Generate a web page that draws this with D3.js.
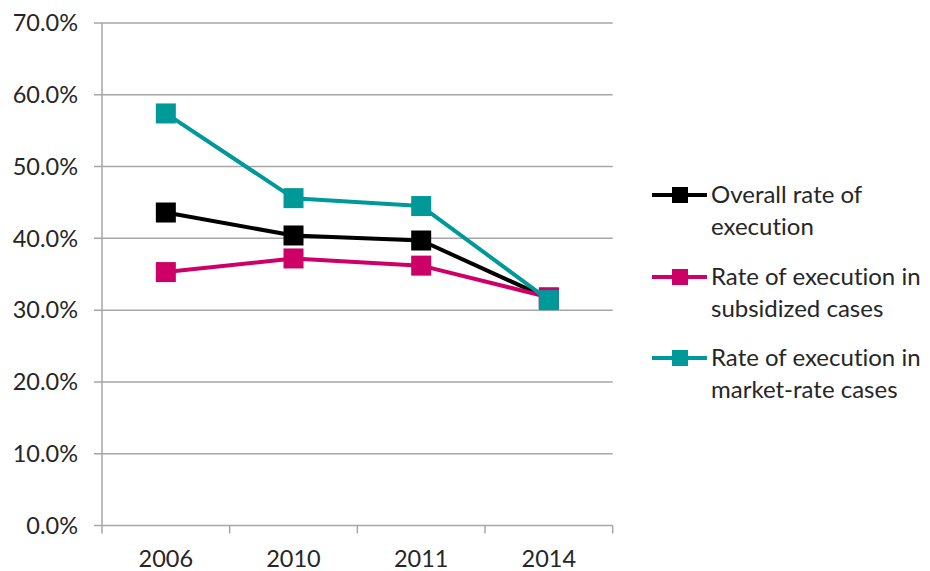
<!DOCTYPE html>
<html><head><meta charset="utf-8">
<script src="https://cdn.jsdelivr.net/npm/d3@7"></script>
<style>body{margin:0;background:#fff}svg{display:block}text{font-family:Lato,"Open Sans",sans-serif;fill:#262626;font-variant-ligatures:none;font-feature-settings:"liga" 0}</style>
</head><body><svg id="c" width="930" height="571"></svg>
<script>
const categories = ["2006","2010","2011","2014"];
const overall = [0.436, 0.404, 0.397, 0.316];
const subsidized = [0.353, 0.372, 0.362, 0.318];
const marketRate = [0.574, 0.456, 0.445, 0.314];
const seriesNames = [["Overall rate of","execution"],["Rate of execution in","subsidized cases"],["Rate of execution in","market-rate cases"]];
const seriesColors = ["#000000","#cc0066","#009999"];
const yTicks = [0,0.1,0.2,0.3,0.4,0.5,0.6,0.7];

(function(){
const svg = d3.select("#c");
const pL=102, pR=612.7, pT=23, pB=525.5;
const x = d3.scaleBand().domain(categories).range([pL,pR]);
const y = d3.scaleLinear().domain([0,0.7]).range([pB,pT]);
const series = [overall, subsidized, marketRate];

svg.append("g").selectAll("line").data(yTicks).join("line")
  .attr("x1",94).attr("x2",pR).attr("y1",d=>y(d)).attr("y2",d=>y(d))
  .attr("stroke","#a6a6a6").attr("stroke-width",1.5);
svg.append("line").attr("x1",pL).attr("x2",pL).attr("y1",pT).attr("y2",pB)
  .attr("stroke","#a6a6a6").attr("stroke-width",1.5);
svg.append("g").selectAll("text").data(yTicks).join("text")
  .attr("x",78).attr("y",d=>y(d)).attr("dy","0.35em").attr("text-anchor","end")
  .attr("font-size",23.5).text(d=>d3.format(".1%")(d));
const xt = categories.map(c=>x(c)).concat([pR]);
svg.append("g").selectAll("line").data(xt).join("line")
  .attr("x1",d=>d).attr("x2",d=>d).attr("y1",pB).attr("y2",pB+8)
  .attr("stroke","#a6a6a6").attr("stroke-width",1.5);
svg.append("g").selectAll("text").data(categories).join("text")
  .attr("x",d=>x(d)+x.bandwidth()/2).attr("y",567).attr("text-anchor","middle")
  .attr("font-size",23.5).text(d=>d);

const line = d3.line().x((d,i)=>x(categories[i])+x.bandwidth()/2).y(d=>y(d));
const ms = 20;
series.forEach((s,k)=>{
  const g = svg.append("g");
  g.append("path").attr("d",line(s)).attr("fill","none").attr("stroke",seriesColors[k])
    .attr("stroke-width",4).attr("stroke-linejoin","round");
  g.selectAll("rect").data(s).join("rect")
    .attr("x",(d,i)=>x(categories[i])+x.bandwidth()/2-ms/2).attr("y",d=>y(d)-ms/2)
    .attr("width",ms).attr("height",ms).attr("fill",seriesColors[k]);
});

const legY = [195, 277, 358];
seriesNames.forEach((n,k)=>{
  const g = svg.append("g");
  g.append("line").attr("x1",652).attr("x2",707).attr("y1",legY[k]).attr("y2",legY[k])
    .attr("stroke",seriesColors[k]).attr("stroke-width",4);
  g.append("rect").attr("x",672).attr("y",legY[k]-8).attr("width",16).attr("height",16).attr("fill",seriesColors[k]);
  n.forEach((t,j)=>{
    g.append("text").attr("x",711).attr("y",legY[k]+j*32).attr("dy","0.35em")
      .attr("font-size",24).text(t);
  });
});
})();
</script></body></html>
